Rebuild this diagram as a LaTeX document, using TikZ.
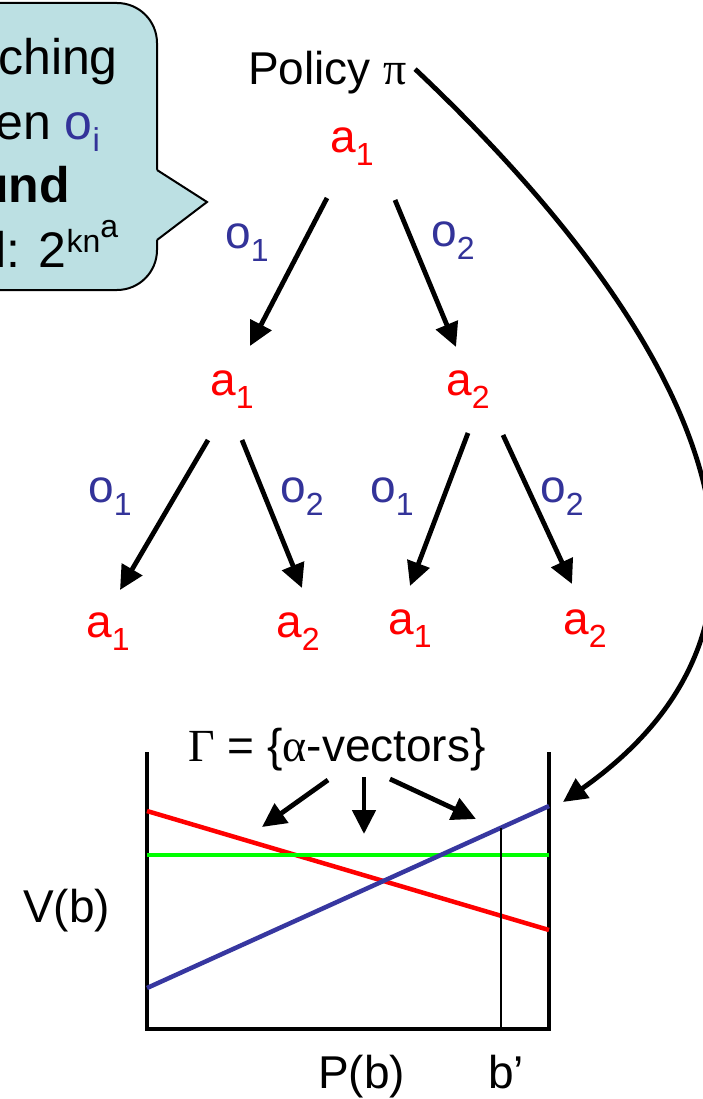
\documentclass[tikz,border=0pt]{standalone}
\usepackage{fontspec}
\setmainfont{Liberation Sans}
\newfontfamily\grk{Liberation Serif}
\usetikzlibrary{arrows.meta}
\definecolor{obl}{RGB}{51,51,153}
\definecolor{lineblue}{RGB}{55,55,160}
\definecolor{calloutfill}{RGB}{188,224,227}
\definecolor{lgreen}{RGB}{0,255,0}
\newcommand\lsub[1]{\raisebox{-13pt}{\fontsize{32}{32}\selectfont #1}}
\tikzset{
  lab/.style={font=\fontsize{46}{50}\selectfont, inner sep=0pt, anchor=base west},
  big/.style={font=\fontsize{50}{54}\selectfont, inner sep=0pt, anchor=base west},
  act/.style={lab, text=red},
  obs/.style={lab, text=obl},
  arr/.style={line width=4.8pt, -{Triangle[length=24pt,width=23pt]}},
  axis/.style={line width=4.8pt},
  vec/.style={line width=4.5pt},
}
\begin{document}
\begin{tikzpicture}[x=1pt,y=-1pt]
\fill[white] (0,0) rectangle (702,1099);
\useasboundingbox (0,0) rectangle (702,1099);

% callout
\filldraw[fill=calloutfill, draw=black, line width=2pt, rounded corners=40pt] (-40,3) rectangle (157,290);
\fill[calloutfill] (150,170) -- (157,170) -- (207,202) -- (157,240) -- (150,240) -- cycle;
\draw[line width=2pt, line join=miter] (157,170) -- (207,202) -- (157,240);
\node[big] (c1) at (-2,75) {ching};
\node[big] (c2) at (-5,140) {en \textcolor{obl}{o\raisebox{-12pt}{\fontsize{33}{33}\selectfont i}}};
\node[big, font=\fontsize{50}{54}\selectfont\bfseries] (c3) at (-22,203) {und};
\node[big] (c4) at (-5,267) {l: 2\raisebox{15pt}{\fontsize{32}{32}\selectfont kn\raisebox{15pt}{a}}};

% policy tree
\node[lab, inner sep=0pt] (policy) at (248,85) {Policy {\grk π}};
\node[act] (r) at (330,153) {a\lsub{1}};
\node[act] (l1) at (210,395) {a\lsub{1}};
\node[act] (l2) at (446,395) {a\lsub{2}};
\node[act] (f1) at (86,637) {a\lsub{1}};
\node[act] (f2) at (276,637) {a\lsub{2}};
\node[act] (f3) at (388,634) {a\lsub{1}};
\node[act] (f4) at (563,634) {a\lsub{2}};

\node[obs] (o11) at (225,248) {o\lsub{1}};
\node[obs] (o12) at (431,247) {o\lsub{2}};
\node[obs] (o21) at (88,502) {o\lsub{1}};
\node[obs] (o22) at (280,502) {o\lsub{2}};
\node[obs] (o23) at (370,502) {o\lsub{1}};
\node[obs] (o24) at (540,502) {o\lsub{2}};

\coordinate (rL) at (327,198);  \coordinate (l1T) at (250,346);
\coordinate (rR) at (395,200);  \coordinate (l2T) at (456,347);
\coordinate (l1L) at (208,440); \coordinate (f1T) at (120,590);
\coordinate (l1R) at (242,440); \coordinate (f2T) at (302,588);
\coordinate (l2L) at (468,433); \coordinate (f3T) at (410,586);
\coordinate (l2R) at (503,435); \coordinate (f4T) at (572,584);
\draw[arr] (rL) -- (l1T);
\draw[arr] (rR) -- (l2T);
\draw[arr] (l1L) -- (f1T);
\draw[arr] (l1R) -- (f2T);
\draw[arr] (l2L) -- (f3T);
\draw[arr] (l2R) -- (f4T);

% value function plot
\coordinate (tl) at (147,752);
\coordinate (tr) at (549,752);
\draw[axis] (tl) -- (147,1031);
\draw[axis] (tr) -- (549,1031);
\draw[axis] (145,1029) -- (551,1029);
\draw[vec, red] (147,811) -- (549,930);
\draw[vec, lgreen] (147,855) -- (549,855);
\draw[vec, lineblue] (147,988) -- (549,806);
\draw[line width=1.3pt] (501,828) -- (501,1029);

\node[lab] (gamma) at (188,761) {{\grk Γ} = \{{\grk α}-vectors\}};
\coordinate (gL) at (328,780); \coordinate (gLT) at (262,827);
\coordinate (gM) at (364,777); \coordinate (gMT) at (364,834);
\coordinate (gR) at (390,779); \coordinate (gRT) at (476,819);
\draw[arr] (gL) -- (gLT);
\draw[arr] (gM) -- (gMT);
\draw[arr] (gR) -- (gRT);

\node[lab] (vb) at (23,922) {V(b)};
\node[lab] (pb) at (318,1088) {P(b)};
\node[lab] (bp) at (488,1088) {b’};

% policy to value function
\coordinate (vtip) at (563,802);
\draw[arr] ([xshift=8pt,yshift=4pt]policy.east) .. controls (665,305) and (850,600) .. (vtip);
\end{tikzpicture}
\end{document}
